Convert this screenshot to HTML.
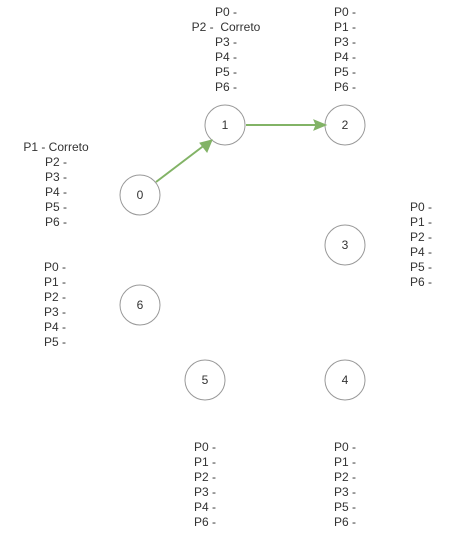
<!DOCTYPE html>
<html><head><meta charset="utf-8"><style>
body{margin:0;width:461px;height:536px;background:#fff;overflow:hidden;position:relative}
.b{position:absolute;font:12px/15px "Liberation Sans",sans-serif;color:#333;white-space:pre}
.c{text-align:center}
svg{position:absolute;left:0;top:0}
</style></head><body>
<svg width="461" height="536" font-family="Liberation Sans, sans-serif" font-size="12" fill="#333">
<g fill="#fff" stroke="#999" stroke-width="1">
<circle cx="140" cy="195" r="20"/>
<circle cx="225" cy="125" r="20"/>
<circle cx="345" cy="125" r="20"/>
<circle cx="345" cy="245" r="20"/>
<circle cx="140" cy="305" r="20"/>
<circle cx="205" cy="380" r="20"/>
<circle cx="345" cy="380" r="20"/>
</g>
<g text-anchor="middle" fill="#333">
<text x="140" y="199">0</text>
<text x="225" y="129">1</text>
<text x="345" y="129">2</text>
<text x="345" y="249">3</text>
<text x="140" y="309">6</text>
<text x="205" y="384">5</text>
<text x="345" y="384">4</text>
</g>
<g stroke="#82b366" stroke-width="2" fill="#82b366">
<line x1="156" y1="182" x2="206" y2="144"/>
<polygon points="212,140 200,143 207,152" stroke-width="1"/>
<line x1="246" y1="125" x2="318" y2="125"/>
<polygon points="326,125 314,120 316,125 314,130" stroke-width="1"/>
</g>
</svg>
<div class="b c" style="left:166px;top:5px;width:120px">P0 -
P2 -  Correto
P3 -
P4 -
P5 -
P6 -</div>
<div class="b" style="left:334px;top:5px">P0 -
P1 -
P3 -
P4 -
P5 -
P6 -</div>
<div class="b c" style="left:6px;top:140px;width:100px">P1 - Correto
P2 -
P3 -
P4 -
P5 -
P6 -</div>
<div class="b" style="left:44px;top:260px">P0 -
P1 -
P2 -
P3 -
P4 -
P5 -</div>
<div class="b" style="left:410px;top:200px">P0 -
P1 -
P2 -
P4 -
P5 -
P6 -</div>
<div class="b" style="left:194px;top:440px">P0 -
P1 -
P2 -
P3 -
P4 -
P6 -</div>
<div class="b" style="left:334px;top:440px">P0 -
P1 -
P2 -
P3 -
P5 -
P6 -</div>
</body></html>
